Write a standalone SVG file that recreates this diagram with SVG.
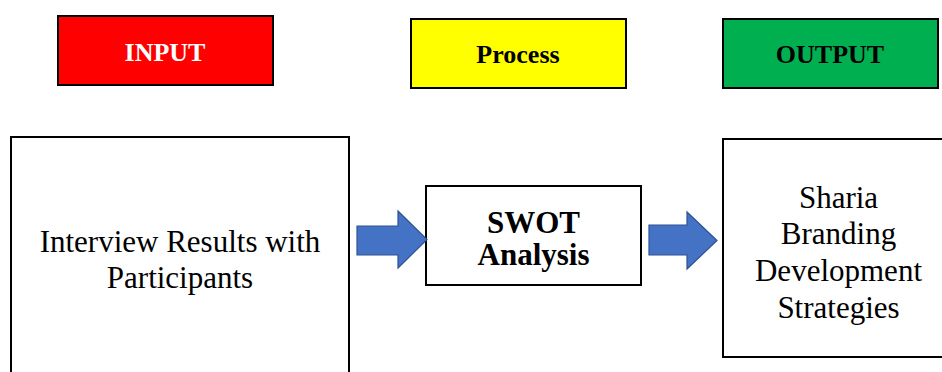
<svg xmlns="http://www.w3.org/2000/svg" width="942" height="372" viewBox="0 0 942 372">
<style>
.box{stroke:#000;stroke-width:2}
.hdr{font-family:"Liberation Serif","Times New Roman",serif;font-weight:bold;font-size:26px;text-anchor:middle}
.txt{font-family:"Liberation Serif","Times New Roman",serif;font-size:31px;text-anchor:middle;fill:#000}
.bold{font-weight:bold}
.arrow{fill:#4472C4;stroke:#2F528F;stroke-width:1.2}
</style>
<rect width="942" height="372" fill="#fff"/>
<g id="input-header">
<rect class="box" x="58" y="16" width="215" height="69" fill="#FF0000"/>
<text class="hdr" x="165" y="61" fill="#fff">INPUT</text>
</g>
<g id="process-header">
<rect class="box" x="411" y="19" width="215" height="69" fill="#FFFF00"/>
<text class="hdr" x="518" y="63" fill="#000">Process</text>
</g>
<g id="output-header">
<rect class="box" x="723" y="19" width="215" height="69" fill="#00B050"/>
<text class="hdr" x="830" y="63" fill="#000">OUTPUT</text>
</g>
<g id="input-node">
<rect class="box" x="11" y="137" width="338" height="250" fill="#fff"/>
<text class="txt" x="180" y="252">Interview Results with</text>
<text class="txt" x="180" y="288">Participants</text>
</g>
<g id="swot-node">
<rect class="box" x="426" y="186" width="215" height="99" fill="#fff"/>
<text class="txt bold" x="533.5" y="233">SWOT</text>
<text class="txt bold" x="533.5" y="265">Analysis</text>
</g>
<g id="output-node">
<rect class="box" x="723" y="139" width="231" height="218" fill="#fff"/>
<text class="txt" x="838.5" y="208">Sharia</text>
<text class="txt" x="838.5" y="244">Branding</text>
<text class="txt" x="838.5" y="281">Development</text>
<text class="txt" x="838.5" y="318">Strategies</text>
</g>
<g id="connectors">
<path class="arrow" d="M357,226 H398 V211 L427,239.5 L398,268 V255 H357 Z"/>
<path class="arrow" d="M649,225 H687 V212 L717,240.5 L687,269 V255 H649 Z"/>
</g>
</svg>
